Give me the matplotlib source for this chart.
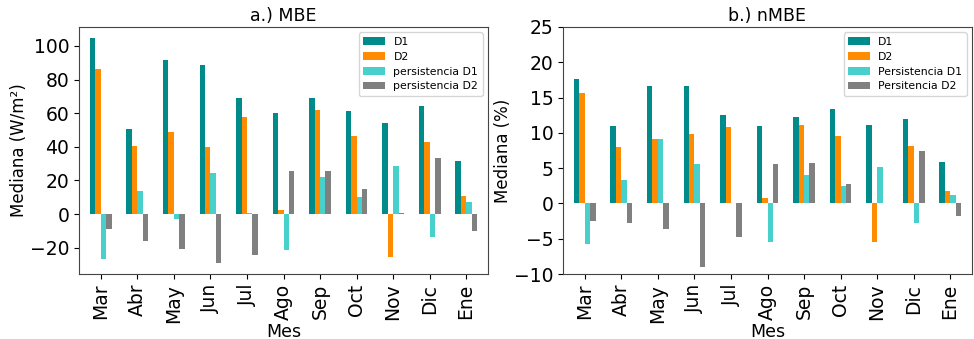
import numpy as np
import matplotlib.pyplot as plt
from matplotlib.ticker import MultipleLocator

meses = ["Mar", "Abr", "May", "Jun", "Jul", "Ago", "Sep", "Oct", "Nov", "Dic", "Ene"]

# MBE (W/m2)
mbe_d1 = [104.6, 50.4, 91.5, 88.9, 69.2, 60.1, 69.2, 61.3, 54.2, 64.3, 31.3]
mbe_d2 = [86.5, 40.3, 49.0, 40.1, 57.7, 2.4, 62.1, 46.6, -25.8, 43.1, 10.7]
mbe_pd1 = [-27.0, 13.5, -3.0, 24.4, 0.6, -21.6, 22.2, 10.3, 28.6, -13.9, 7.3]
mbe_pd2 = [-8.9, -15.9, -20.8, -29.0, -24.6, 25.4, 25.8, 14.9, 0.6, 33.3, -10.1]

# nMBE (%)
nmbe_d1 = [17.7, 11.0, 16.7, 16.7, 12.5, 11.0, 12.3, 13.4, 11.15, 11.9, 5.9]
nmbe_d2 = [15.6, 8.0, 9.17, 9.9, 10.8, 0.7, 11.1, 9.5, -5.5, 8.2, 1.8]
nmbe_pd1 = [-5.7, 3.26, 9.17, 5.6, 0.1, -5.5, 4.0, 2.5, 5.2, -2.8, 1.2]
nmbe_pd2 = [-2.5, -2.8, -3.6, -9.0, -4.7, 5.6, 5.7, 2.8, 0.1, 7.4, -1.8]

colores = ["#008b8b", "#ff8c00", "#48d1cc", "#808080"]
W = 0.15


def barras(ax, series, nombres, titulo, ylabel, paso):
    x = np.arange(len(meses))
    for i, (s, n) in enumerate(zip(series, nombres)):
        ax.bar(x + (i - 1.5) * W, s, W, color=colores[i], label=n)
    ax.set_xticks(x)
    ax.set_xticklabels(meses, rotation=90, fontsize=13.5)
    ax.yaxis.set_major_locator(MultipleLocator(paso))
    ax.tick_params(axis="y", labelsize=13.5)
    ax.set_xlim(-0.6, len(meses) - 0.4)
    ax.set_title(titulo, fontsize=12.5, pad=4)
    ax.set_xlabel("Mes", fontsize=12.5, labelpad=0)
    ax.set_ylabel(ylabel, fontsize=12, labelpad=1)
    ax.legend(loc="upper right", fontsize=7.8, handlelength=2.0,
              labelspacing=0.45)
    for sp in ax.spines.values():
        sp.set_color("#444444")


fig = plt.figure(figsize=(9.74, 3.39), dpi=100)
ax1 = fig.add_axes([79 / 974, 1 - 274 / 339, 409 / 974, 247 / 339])
ax2 = fig.add_axes([563 / 974, 1 - 274 / 339, 409 / 974, 247 / 339])

barras(ax1, [mbe_d1, mbe_d2, mbe_pd1, mbe_pd2],
       ["D1", "D2", "persistencia D1", "persistencia D2"],
       "a.) MBE", "Mediana (W/m²)", 20)
barras(ax2, [nmbe_d1, nmbe_d2, nmbe_pd1, nmbe_pd2],
       ["D1", "D2", "Persistencia D1", "Persitencia D2"],
       "b.) nMBE", "Mediana (%)", 5)
ax2.set_ylim(-10, 25)

fig.savefig("out.png", dpi=100)
